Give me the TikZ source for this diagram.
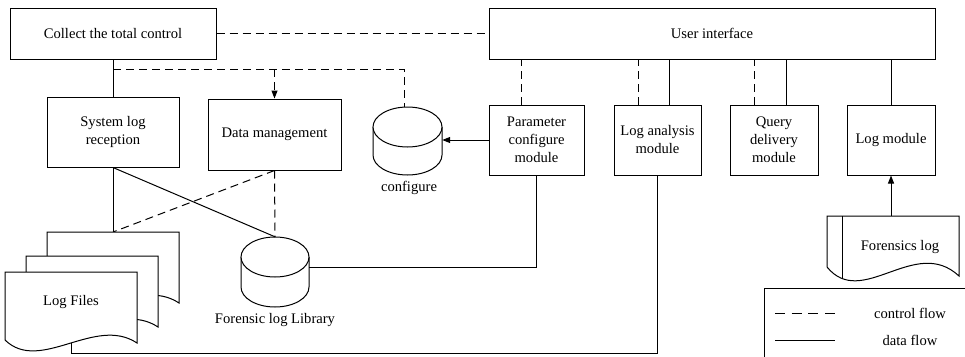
\documentclass[tikz,border=0pt]{standalone}
\usepackage{fontspec}
\setmainfont{Liberation Serif}
\usetikzlibrary{arrows.meta,calc}
\begin{document}
\begin{tikzpicture}[x=1pt,y=-1pt,
  every node/.style={font=\fontsize{14.6}{18}\selectfont},
  box/.style={draw, line width=1pt, fill=white, align=center, inner sep=0pt},
  ctrl/.style={line width=1pt, dash pattern=on 8pt off 5pt},
  dataf/.style={line width=1pt},
  arr/.style={-{Triangle[length=8pt,width=6pt]}},
  shp/.style={draw, line width=1pt, fill=white},
  ghost/.style={inner sep=0pt, draw=none}]
\useasboundingbox (0,0) rectangle (965,356);
\clip (0,0) rectangle (965,356);

% main boxes
\node[box, minimum width=206pt, minimum height=51pt] (collect) at (113,33.5) {Collect the total control};
\node[box, minimum width=446pt, minimum height=51pt] (ui) at (712,33.5) {User interface};
\node[box, minimum width=132pt, minimum height=70pt] (syslog) at (113,132) {System log\\reception};
\node[box, minimum width=133pt, minimum height=71pt] (dm) at (274.5,134.5) {Data management};
\node[box, minimum width=95pt, minimum height=70pt] (param) at (536.5,140) {Parameter\\configure\\module};
\node[box, minimum width=87pt, minimum height=70pt] (loga) at (657.5,140) {Log analysis\\module};
\node[box, minimum width=88pt, minimum height=70pt] (query) at (774,140) {Query\\delivery\\module};
\node[box, minimum width=88pt, minimum height=70pt] (logm) at (891,140) {Log module};

% cylinder: configure
\node[ghost, minimum width=69pt, minimum height=68pt] (cfg) at (407.5,141) {};
\draw[shp] (373,127) -- (373,155) arc[start angle=180, end angle=360, x radius=34.5pt, y radius=20pt] -- (442,127);
\draw[shp] (407.5,127) ellipse [x radius=34.5pt, y radius=20pt];
\node (cfglbl) at (409,188) {configure};

% cylinder: forensic log library
\node[ghost, minimum width=68pt, minimum height=70pt] (flib) at (275,272) {};
\draw[shp] (241,257) -- (241,287) arc[start angle=180, end angle=360, x radius=34pt, y radius=20pt] -- (309,257);
\draw[shp] (275,257) ellipse [x radius=34pt, y radius=20pt];
\node (fliblbl) at (275,320) {Forensic log Library};

% coordinates
\coordinate (cj) at (113,69);
\coordinate (cfgtop) at (404,107.2);
\coordinate (backtop) at (113,232);
\coordinate (lfb) at (71,343);
\coordinate (bottomy) at (0,353);
\coordinate (flogtop) at (891,216);

% connectors
\draw[ctrl] (collect.east) -- (ui.west);
\draw[ctrl] (cj) -- (cj -| cfgtop) -- (cfgtop);
\draw[ctrl,arr] (cj -| dm.north) -- (dm.north);
\draw[ctrl] ([xshift=-15.5pt]param.north) -- ([xshift=-15.5pt]param.north |- ui.south);
\draw[ctrl] ([xshift=-19.5pt]loga.north) -- ([xshift=-19.5pt]loga.north |- ui.south);
\draw[dataf] ([xshift=11.5pt]loga.north) -- ([xshift=11.5pt]loga.north |- ui.south);
\draw[ctrl] ([xshift=-20pt]query.north) -- ([xshift=-20pt]query.north |- ui.south);
\draw[dataf] ([xshift=12pt]query.north) -- ([xshift=12pt]query.north |- ui.south);
\draw[dataf] (logm.north) -- (logm.north |- ui.south);
\draw[dataf,arr] (param.west) -- (param.west -| cfg.east);
\draw[dataf] (param.south) |- ([yshift=5pt]flib.east);
\draw[dataf] (loga.south) -- (loga.south |- bottomy) -- (lfb |- bottomy) -- (lfb);
\draw[dataf] (collect.south) -- (syslog.north);
\draw[dataf] (syslog.south) -- (backtop);
\draw[dataf] (syslog.south) -- (flib.north);
\draw[ctrl] (dm.south) -- (flib.north);
\draw[ctrl] (dm.south) -- (backtop);
\draw[dataf,arr] (flogtop) -- (logm.south);

% log files (stacked documents)
\begin{scope}[shift={(42,-40)}]
\draw[shp] (5,340) -- (5,272) -- (137,272) -- (137,343) .. controls (95,315) and (40,374) .. (5,340) -- cycle;
\end{scope}
\begin{scope}[shift={(21,-16)}]
\draw[shp] (5,340) -- (5,272) -- (137,272) -- (137,343) .. controls (95,315) and (40,374) .. (5,340) -- cycle;
\end{scope}
\draw[shp] (5,340) -- (5,272) -- (137,272) -- (137,343) .. controls (95,315) and (40,374) .. (5,340) -- cycle;
\node (logfiles) at (71,302) {Log Files};

% forensics log document
\draw[shp] (827,267) -- (827,216) -- (959,216) -- (959,276) .. controls (915,235) and (862,310) .. (827,267) -- cycle;
\draw[line width=1pt] (842,216) -- (842,278.3);
\node (flog) at (900,247) {Forensics log};

% legend
\draw[line width=1pt] (764,288) rectangle (990,380);
\coordinate (l1a) at (775,313);
\coordinate (l1b) at (835,313);
\coordinate (l2a) at (775,340);
\coordinate (l2b) at (835,340);
\draw[line width=1pt, dash pattern=on 10pt off 6.7pt] (l1a) -- (l1b);
\draw[dataf] (l2a) -- (l2b);
\node (lctrl) at (910,313) {control flow};
\node (ldata) at (910,340) {data flow};
\end{tikzpicture}
\end{document}
